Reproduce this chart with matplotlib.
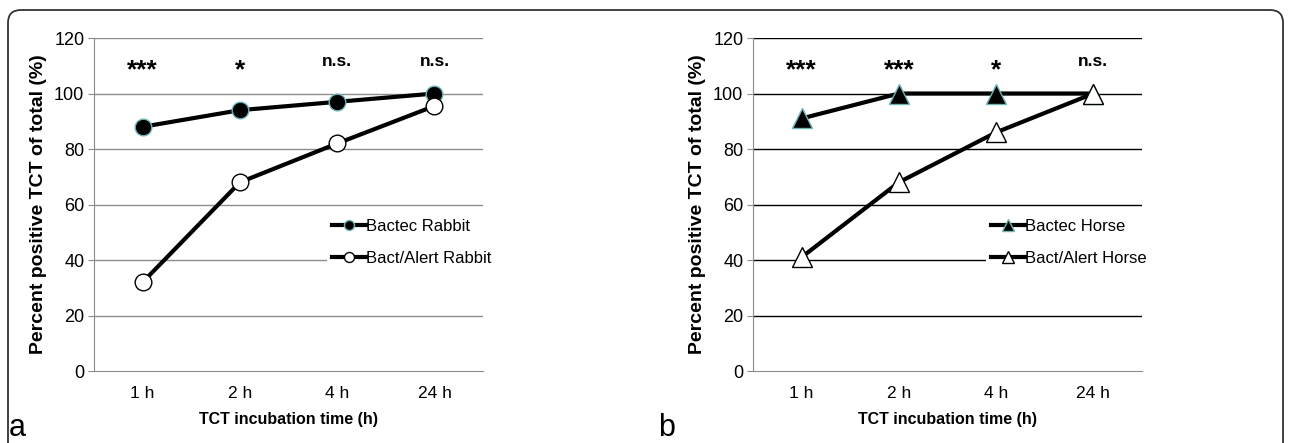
import matplotlib.pyplot as plt
from matplotlib.patches import FancyBboxPatch

plt.rcParams['font.family'] = ['Liberation Sans', 'DejaVu Sans']

# categories on the x axis
times = ['1 h', '2 h', '4 h', '24 h']

# panel a (rabbit blood)
bactec_rabbit = [88, 94, 97, 100]
bactalert_rabbit = [32, 68, 82, 95.5]
sig_rabbit = ['***', '*', 'n.s.', 'n.s.']

# panel b (horse blood)
bactec_horse = [91, 100, 100, 100]
bactalert_horse = [41, 68, 86, 100]
sig_horse = ['***', '***', '*', 'n.s.']


def draw_panel(ax, filled, hollow, sig, marker, names, grid_color, ms):
    x = range(len(times))
    ax.plot(x, filled, '-', color='black', lw=3, marker=marker, ms=ms,
            mfc='black', mec='#6fb7b7', mew=1, label=names[0], zorder=4)
    ax.plot(x, hollow, '-', color='black', lw=3, marker=marker, ms=ms,
            mfc='white', mec='black', mew=1, label=names[1], zorder=5)

    ax.set_xlim(-0.5, 3.5)
    ax.set_ylim(0, 120)
    ax.set_yticks(range(0, 121, 20))
    ax.set_xticks(list(x))
    ax.set_xticklabels(times)
    ax.tick_params(axis='x', length=0, labelsize=12.5, pad=11)
    ax.tick_params(axis='y', length=4, color='#8c8c8c', labelsize=13, pad=3)
    for yv in range(20, 121, 20):
        ax.axhline(yv, color=grid_color, lw=1, zorder=1)
    for side in ['top', 'right']:
        ax.spines[side].set_visible(False)
    ax.spines['left'].set_color('#8c8c8c')
    ax.spines['bottom'].set_color('#8c8c8c')

    for i, s in enumerate(sig):
        if s == 'n.s.':
            ax.text(i, 111.5, s, ha='center', va='center', fontsize=12.5, fontweight='bold')
        else:
            ax.text(i, 108.5, s, ha='center', va='center', fontsize=19, fontweight='bold')

    ax.set_ylabel('Percent positive TCT of total (%)', fontsize=14, fontweight='bold', labelpad=5)
    ax.set_xlabel('TCT incubation time (h)', fontsize=11.5, fontweight='bold', labelpad=8)

    leg = ax.legend(loc='lower left', bbox_to_anchor=(0.6, 0.3, 0.5, 0.21),
                    frameon=True, fancybox=False, edgecolor='none', facecolor='white',
                    framealpha=1, fontsize=12, markerscale=0.6, handlelength=2.0,
                    handletextpad=0.0, labelspacing=1.05, borderaxespad=0, borderpad=0.3)
    leg.set_zorder(6)


fig = plt.figure(figsize=(12.9, 4.43), dpi=100)
ax_a = fig.add_axes([0.0729, 0.1625, 0.3016, 0.7517])
ax_b = fig.add_axes([0.5837, 0.1625, 0.3016, 0.7517])

draw_panel(ax_a, bactec_rabbit, bactalert_rabbit, sig_rabbit, 'o',
           ['Bactec Rabbit', 'Bact/Alert Rabbit'], '#8c8c8c', 12)
draw_panel(ax_b, bactec_horse, bactalert_horse, sig_horse, '^',
           ['Bactec Horse', 'Bact/Alert Horse'], 'black', 14)

# rounded outer frame, open at the bottom edge of the image
frame = FancyBboxPatch((0.0062, -0.2), 0.9884, 1.1774,
                       boxstyle='round,pad=0,rounding_size=0.01',
                       transform=fig.transFigure, fill=False,
                       edgecolor='#333333', lw=1.3, mutation_aspect=2.9)
fig.patches.append(frame)

fig.text(0.007, 0.015, 'a', fontsize=22, va='baseline')
fig.text(0.510, 0.015, 'b', fontsize=22, va='baseline')

fig.savefig('out.png', dpi=100)
